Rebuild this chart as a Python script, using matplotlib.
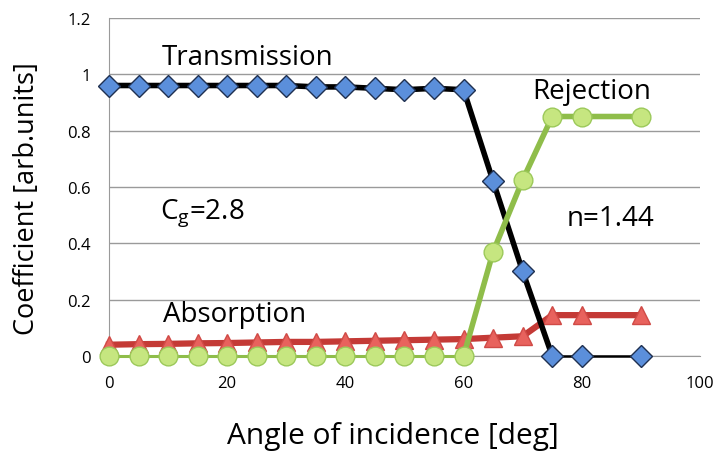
import matplotlib
matplotlib.use('Agg')
import matplotlib.pyplot as plt

plt.rcParams['font.family'] = ['Open Sans', 'DejaVu Sans']

# data
angle = [0, 5, 10, 15, 20, 25, 30, 35, 40, 45, 50, 55, 60, 65, 70, 75, 80, 90]
transmission = [0.96, 0.96, 0.96, 0.96, 0.96, 0.96, 0.96, 0.955, 0.955, 0.95, 0.945, 0.95, 0.945,
                0.62, 0.30, 0.0, 0.0, 0.0]
rejection = [0.0, 0.0, 0.0, 0.0, 0.0, 0.0, 0.0, 0.0, 0.0, 0.0, 0.0, 0.0, 0.0,
             0.37, 0.625, 0.85, 0.85, 0.85]
absorption = [0.04, 0.042, 0.043, 0.045, 0.046, 0.048, 0.05, 0.05, 0.052, 0.054, 0.056, 0.058, 0.06,
              0.065, 0.07, 0.145, 0.145, 0.145]

yticks = [0, 0.2, 0.4, 0.6, 0.8, 1, 1.2]
ytick_labels = ['0', '0.2', '0.4', '0.6', '0.8', '1', '1.2']
xticks = [0, 20, 40, 60, 80, 100]

fig = plt.figure(figsize=(7.15, 4.52), dpi=100)
ax = fig.add_axes([0.1524, 0.2102, 0.8266, 0.748])

# absorption
ax.plot(angle, absorption, color='#c43a36', lw=4.5, zorder=3)
ax.plot(angle, absorption, ls='none', marker='^', ms=13,
        markerfacecolor='#e8625d', markeredgecolor='#d04a46', zorder=3.1)

# transmission: thick line up to 75 deg, thin after
ax.plot(angle[:16], transmission[:16], color='black', lw=4, zorder=4)
ax.plot(angle[15:], transmission[15:], color='black', lw=1.8, zorder=4)
ax.plot(angle, transmission, ls='none', marker='D', ms=11,
        markerfacecolor='#5b8fdb', markeredgecolor='#1f3050', markeredgewidth=1, zorder=4.1)

# rejection: thin line up to 60 deg, thick after
ax.plot(angle[:13], rejection[:13], color='#8fbd4a', lw=2.2, zorder=5)
ax.plot(angle[12:], rejection[12:], color='#8fbd4a', lw=4, zorder=5)
ax.plot(angle, rejection, ls='none', marker='o', ms=13.5,
        markerfacecolor='#c6e680', markeredgecolor='#9cc95a', markeredgewidth=1, zorder=5.1)

ax.set_xlim(0, 100)
ax.set_ylim(0, 1.2)
ax.set_yticks(yticks)
ax.set_yticklabels(ytick_labels)
ax.set_xticks(xticks)
ax.grid(axis='y', color='#9a9a9a', lw=1)
ax.set_axisbelow(True)
for s in ['top', 'right']:
    ax.spines[s].set_visible(False)
ax.spines['left'].set_color('#9a9a9a')
ax.spines['bottom'].set_color('#9a9a9a')
ax.tick_params(axis='y', length=0, labelsize=12, pad=13)
ax.tick_params(axis='x', length=0, labelsize=12, pad=14)
for line in ax.lines:
    line.set_clip_on(False)

ax.set_xlabel('Angle of incidence [deg]', fontsize=21.5, va='center')
ax.set_ylabel('Coefficient [arb.units]', fontsize=19.5, va='center')
ax.xaxis.set_label_coords(0.48, -0.235)
ax.yaxis.set_label_coords(-0.139, 0.467)

ax.text(23.4, 1.061, 'Transmission', fontsize=20, ha='center', va='center')
ax.text(81.6, 0.94, 'Rejection', fontsize=20, ha='center', va='center')
ax.text(15.7, 0.493, r'C$_\mathregular{g}$=2.8', fontsize=20, ha='center', va='baseline')
ax.text(84.8, 0.49, 'n=1.44', fontsize=20, ha='center', va='center')
ax.text(21.2, 0.149, 'Absorption', fontsize=20, ha='center', va='center')

fig.savefig('out.png', dpi=100)
